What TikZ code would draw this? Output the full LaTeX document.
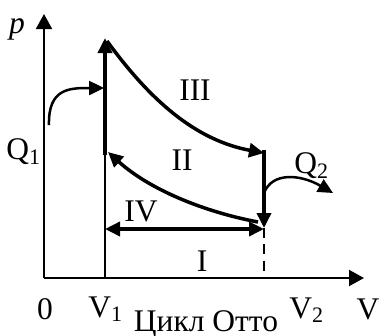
\documentclass[tikz,border=0pt]{standalone}
\usepackage{fontspec}
\setmainfont{Liberation Serif}
\usetikzlibrary{arrows.meta}

\begin{document}
\begin{tikzpicture}[x=0.4pt,y=-0.4pt,
  axis/.style={line width=0.8pt,-{Triangle[length=6pt,width=6.4pt]}},
  proc/.style={line width=1.4pt,-{Triangle[length=6pt,width=5.6pt]}},
  heat/.style={line width=1pt,-{Triangle[length=6pt,width=5.6pt]}},
  lbl/.style={font=\fontsize{12.6}{14}\selectfont,inner sep=0pt}]
 \useasboundingbox (0,0) rectangle (379,335);
 % ---- points ----
 \coordinate (O) at (44,278);
 \coordinate (ptop) at (44,14);
 \coordinate (vend) at (364,278);
 \coordinate (a1) at (105,278);
 \coordinate (a2) at (105,155);
 \coordinate (a3) at (105,38);
 \coordinate (c1) at (107,41);
 \coordinate (c2) at (264,153);
 \coordinate (b1) at (264,150);
 \coordinate (b2) at (264,228);
 \coordinate (b3) at (264,278);
 \coordinate (d1) at (258,222);
 \coordinate (d2) at (108,152);
 \coordinate (e1) at (105,229);
 \coordinate (e2) at (264,229);
 \coordinate (q1s) at (49,125);
 \coordinate (q1e) at (104,88);
 \coordinate (q2s) at (264,193);
 \coordinate (q2e) at (333,193);
 % ---- axes ----
 \draw[axis] (O)--(ptop);
 \draw[axis] (O)--(vend);
 \draw[line width=0.5pt] (a1)--(a2);
 \draw[line width=0.7pt,dashed,dash pattern=on 4pt off 2.5pt] (b2)--(b3);
 % ---- cycle ----
 \draw[proc] (a2)--(a3);
 \draw[proc] (c1) .. controls (150,100) and (195,140) .. (c2);
 \draw[proc] (b1)--(b2);
 \draw[proc] (d1) .. controls (205,212) and (150,190) .. (d2);
 \draw[proc,{Triangle[length=6pt,width=5.6pt]}-{Triangle[length=6pt,width=5.6pt]}] (e1)--(e2);
 % ---- heat ----
 \draw[heat] (q1s) .. controls (48,88) and (70,88) .. (q1e);
 \fill (q2s) circle (1.2);
 \draw[heat] (q2s) .. controls (272,172) and (300,174) .. (q2e);
 % ---- labels ----
 \node[lbl] (lp) at (17,29) {\textit{p}};
 \node[lbl] (lq1) at (24,152) {Q\textsubscript{1}};
 \node[lbl] (lq2) at (312,166) {Q\textsubscript{2}};
 \node[lbl] (l3) at (195,90) {III};
 \node[lbl] (l2) at (182,160) {II};
 \node[lbl] (l4) at (141,211) {IV};
 \node[lbl] (l1) at (202,261) {I};
 \node[lbl] (l0) at (45,309) {0};
 \node[lbl] (lv1) at (106,309) {V\textsubscript{1}};
 \node[lbl] (lv2) at (307,310) {V\textsubscript{2}};
 \node[lbl] (lv) at (368,309) {V};
 \node[lbl] (lt) at (206,324) {Цикл Отто};
\end{tikzpicture}
\end{document}
